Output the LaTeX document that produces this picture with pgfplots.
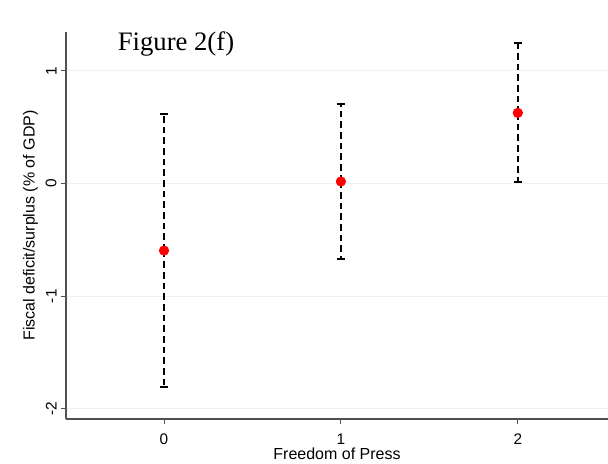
\documentclass[border=0pt]{standalone}
\usepackage{fontspec}
\setmainfont{Liberation Sans}
\newfontfamily\titlefont{Liberation Serif}
\usepackage{pgfplots}
\pgfplotsset{compat=1.18}

\definecolor{gridc}{RGB}{234,242,243}
\definecolor{axisc}{RGB}{80,80,80}

\begin{document}
\begin{tikzpicture}[x=1pt,y=1pt]
% fixed canvas: 1px = 0.75pt
\useasboundingbox (-49.5pt,-33.75pt) rectangle (406.5pt,314.25pt);
\begin{axis}[
  at={(0,0)}, anchor=south west,
  scale only axis,
  width=406.5pt, height=290.25pt,
  xmin=-0.554, xmax=2.51,
  ymin=-2.09, ymax=1.345,
  axis lines=left,
  axis line style={-, axisc, line width=0.8pt},
  xtick={0,1,2}, ytick={-2,-1,0,1},
  tick style={axisc, line width=0.6pt},
  tick align=outside,
  major tick length=3.5pt,
  ymajorgrids,
  grid style={gridc, line width=0.8pt},
  /pgf/number format/assume math mode=true,
  ticklabel style={font=\fontsize{11.5}{13}\selectfont},
  xticklabel style={yshift=-4pt},
  yticklabel style={rotate=90, anchor=south, yshift=0pt},
  xlabel={Freedom of Press},
  ylabel={Fiscal deficit/surplus (\% of GDP)},
  label style={font=\fontsize{12}{14}\selectfont},
  xlabel style={yshift=4.5pt},
  ylabel style={yshift=-1pt},
  clip=false,
]
\addplot[
  only marks,
  mark=*, mark size=3.6pt,
  mark options={fill=red, draw=red},
  error bars/.cd,
    y dir=both, y explicit,
    error bar style={black, line width=1.5pt, dash pattern=on 5pt off 3pt},
    error mark options={black, solid, line width=1.5pt, mark size=3pt, rotate=90},
] table[x=x, y=y, y error plus=ep, y error minus=em] {
x  y       ep     em
0  -0.595  1.212  1.212
1   0.018  0.690  0.685
2   0.627  0.620  0.612
};
\node[font=\titlefont\fontsize{20}{24}\selectfont] at (axis cs:0.068,1.242) {Figure 2(f)};
\end{axis}
\end{tikzpicture}
\end{document}
